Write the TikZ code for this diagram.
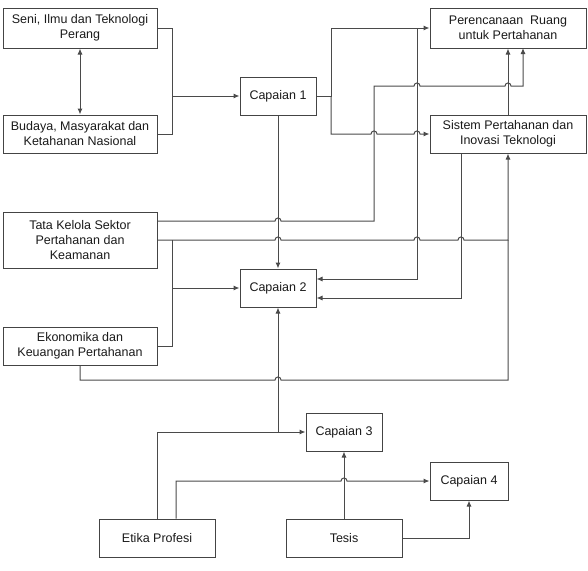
\documentclass[tikz,border=0pt]{standalone}
\usepackage{fontspec}
\setmainfont{Liberation Sans}
\usetikzlibrary{arrows.meta}
\definecolor{lc}{HTML}{4A4A4A}
\definecolor{bc}{HTML}{444444}
\definecolor{tc}{HTML}{1A1A1A}
\newcommand{\hp}[2]{-- ({#1-3},#2) .. controls ({#1-3},{#2-4}) and ({#1+3},{#2-4}) .. ({#1+3},#2)}
\tikzset{
  box/.style={draw=bc, line width=1pt, inner sep=0pt, align=center,
    text=tc, font=\fontsize{12.5}{15}\selectfont},
  conn/.style={draw=lc, line width=1pt},
  arr/.style={conn, -{Latex[length=6pt,width=5pt]}},
  darr/.style={conn, {Latex[length=6pt,width=5pt]}-{Latex[length=6pt,width=5pt]}}
}
\begin{document}
\begin{tikzpicture}[x=1pt,y=-1pt]
\useasboundingbox (0,0) rectangle (588,570);
% boxes
\node[box, minimum width=154pt, minimum height=40pt] (seni) at (80,28) {Seni, Ilmu dan Teknologi\\Perang};
\node[box, minimum width=154pt, minimum height=38pt] (budaya) at (80,134) {Budaya, Masyarakat dan\\Ketahanan Nasional};
\node[box, minimum width=76pt, minimum height=38pt] (c1) at (278,96) {Capaian 1};
\node[box, minimum width=156pt, minimum height=40pt] (peren) at (508,28) {Perencanaan\ \ Ruang\\untuk Pertahanan};
\node[box, minimum width=156pt, minimum height=38pt] (sistem) at (508,134) {Sistem Pertahanan dan\\Inovasi Teknologi};
\node[box, minimum width=154pt, minimum height=56pt] (tata) at (80,240) {Tata Kelola Sektor\\Pertahanan dan\\Keamanan};
\node[box, minimum width=76pt, minimum height=38pt] (c2) at (278,288) {Capaian 2};
\node[box, minimum width=154pt, minimum height=38pt] (eko) at (80,346) {Ekonomika dan\\Keuangan Pertahanan};
\node[box, minimum width=76pt, minimum height=38pt] (c3) at (344,432) {Capaian 3};
\node[box, minimum width=78pt, minimum height=38pt] (c4) at (469,481) {Capaian 4};
\node[box, minimum width=116pt, minimum height=38pt] (etika) at (157,538) {Etika Profesi};
\node[box, minimum width=116pt, minimum height=38pt] (tesis) at (344,538) {Tesis};
% connectors
\draw[darr] (seni.south) -- (budaya.north);
\draw[conn] (seni.east) -- (172,28) -- (172,134) -- (budaya.east);
\draw[arr] (172,96) -- (c1.west);
\draw[arr] (c1.east) -- (331,96) |- (peren.west);
\draw[arr] (331,96) -- (331,134) \hp{374}{134} \hp{417}{134} -- (sistem.west);
\draw[arr] (c1.south) -- (c2.north);
\draw[arr] ([yshift=19pt]tata.east) \hp{278}{221} -- (374,221) -- (374,86) \hp{417}{86} \hp{508}{86} -- (523,86) -- (523,48);
\draw[arr] (tata.east) \hp{278}{240} \hp{417}{240} \hp{461}{240} -- (508,240) -- (sistem.south);
\draw[conn] (eko.south) -- (80,380) \hp{278}{380} -- (508,380) -- (508,240);
\draw[conn] (172,240) -- (172,346) -- (eko.east);
\draw[arr] (172,288) -- (c2.west);
\draw[arr] (sistem.north) -- (peren.south);
\draw[arr] (417,28) |- ([yshift=9pt]c2.east);
\draw[arr] ([xshift=-47pt]sistem.south) |- ([yshift=-10pt]c2.east);
\draw[arr] (etika.north) |- (c3.west);
\draw[arr] (278,432) -- (c2.south);
\draw[arr] ([xshift=19pt]etika.north) -- (176,481) \hp{344}{481} -- (c4.west);
\draw[arr] (tesis.north) -- (c3.south);
\draw[arr] (tesis.east) -| (c4.south);
\end{tikzpicture}
\end{document}
